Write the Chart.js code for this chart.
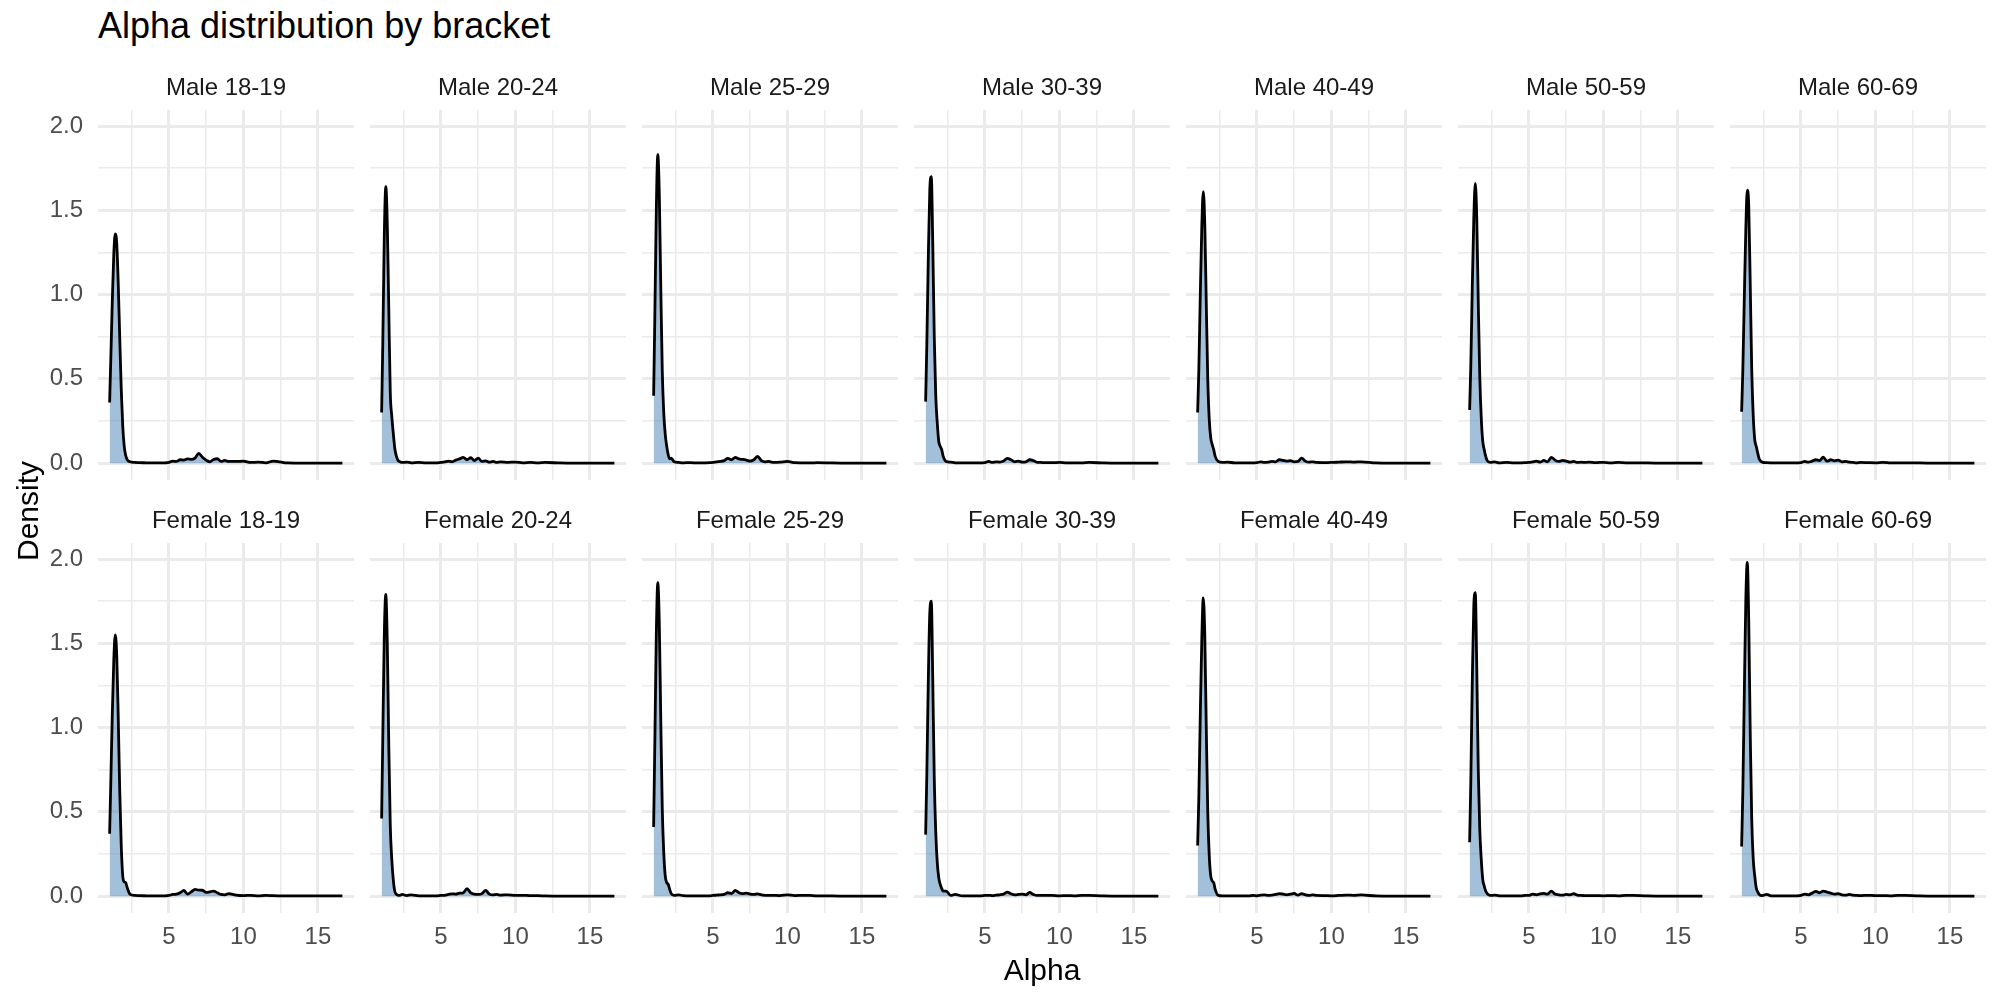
<!DOCTYPE html>
<html>
<head>
<meta charset="utf-8">
<title>Alpha distribution by bracket</title>
<script src="https://cdn.jsdelivr.net/npm/chart.js@4.4.1/dist/chart.umd.min.js"></script>
<style>
  body { margin: 0; background: #ffffff; }
  #wrap { position: relative; width: 2000px; height: 1000px; overflow: hidden;
          font-family: "Liberation Sans", Arial, sans-serif; }
  #wrap canvas { position: absolute; }
  .txt { position: absolute; white-space: nowrap; line-height: 1; color: #000; }
</style>
</head>
<body>
<div id="wrap">
  <div class="txt" style="left:98px; top:8px; font-size:36px;">Alpha distribution by bracket</div>
  <div class="txt" style="left:1042px; top:955px; font-size:30px; transform:translateX(-50%);">Alpha</div>
  <div class="txt" style="left:28px; top:511px; font-size:30px; transform:translate(-50%,-50%) rotate(-90deg);">Density</div>
</div>
<script>
const alphaGrid = [1.02, 1.1, 1.2, 1.3, 1.4, 1.5, 1.6, 1.7, 1.8, 1.9, 2.0, 2.1, 2.2, 2.4, 2.7, 3.0, 3.5, 4.0,
  4.5, 4.75, 5.0, 5.25, 5.5, 5.75, 6.0, 6.25, 6.5, 6.75, 7.0, 7.25, 7.5, 7.75, 8.0, 8.25, 8.5, 8.75, 9.0,
  9.5, 10.0, 10.5, 11.0, 11.5, 12.0, 13.0, 14.0, 15.0, 16.64];

const panelLabels = ['Male 18-19', 'Male 20-24', 'Male 25-29', 'Male 30-39', 'Male 40-49', 'Male 50-59', 'Male 60-69',
  'Female 18-19', 'Female 20-24', 'Female 25-29', 'Female 30-39', 'Female 40-49', 'Female 50-59', 'Female 60-69'];

// density per bracket (same order as alphaGrid)
const male18_19 = [0.36, 0.62, 0.96, 1.24, 1.36, 1.30, 1.06, 0.74, 0.44, 0.22, 0.10, 0.045, 0.02, 0.008, 0.004, 0.003, 0.002, 0.001,
  0.001, 0.002, 0.004, 0.012, 0.01, 0.02, 0.018, 0.025, 0.022, 0.03, 0.058, 0.035, 0.018, 0.008, 0.022, 0.026, 0.01, 0.016, 0.01,
  0.01, 0.012, 0.004, 0.006, 0.002, 0.012, 0.001, 0, 0, 0];
const male20_24 = [0.30, 0.72, 1.35, 1.64, 1.42, 0.92, 0.42, 0.28, 0.18, 0.09, 0.045, 0.02, 0.01, 0.004, 0.006, 0.002, 0.004, 0.001,
  0.001, 0.002, 0.004, 0.008, 0.012, 0.008, 0.018, 0.025, 0.034, 0.02, 0.032, 0.015, 0.03, 0.01, 0.014, 0.006, 0.01, 0.004, 0.008,
  0.005, 0.006, 0.002, 0.004, 0.001, 0.004, 0.001, 0, 0, 0];
const male25_29 = [0.40, 0.86, 1.50, 1.83, 1.60, 1.05, 0.55, 0.30, 0.17, 0.10, 0.05, 0.025, 0.03, 0.008, 0.004, 0.002, 0.003, 0.001,
  0.002, 0.003, 0.005, 0.008, 0.01, 0.015, 0.028, 0.02, 0.034, 0.025, 0.022, 0.018, 0.012, 0.02, 0.04, 0.015, 0.008, 0.01, 0.005,
  0.006, 0.01, 0.003, 0.002, 0.001, 0.003, 0.001, 0, 0, 0];
const male30_39 = [0.365, 0.70, 1.22, 1.62, 1.70, 1.30, 0.75, 0.40, 0.24, 0.13, 0.10, 0.08, 0.04, 0.01, 0.006, 0.002, 0.001, 0.001,
  0.001, 0.002, 0.003, 0.01, 0.004, 0.008, 0.006, 0.012, 0.028, 0.02, 0.008, 0.012, 0.006, 0.008, 0.02, 0.015, 0.005, 0.004, 0.003,
  0.003, 0.004, 0.002, 0.002, 0.001, 0.004, 0.001, 0, 0, 0];
const male40_49 = [0.30, 0.55, 1.00, 1.40, 1.61, 1.42, 0.95, 0.50, 0.26, 0.15, 0.11, 0.08, 0.04, 0.01, 0.004, 0.006, 0.002, 0.001,
  0.001, 0.002, 0.003, 0.008, 0.004, 0.006, 0.01, 0.008, 0.02, 0.016, 0.012, 0.015, 0.008, 0.01, 0.03, 0.012, 0.006, 0.008, 0.004,
  0.003, 0.004, 0.006, 0.008, 0.006, 0.008, 0.001, 0, 0, 0];
const male50_59 = [0.315, 0.58, 1.05, 1.45, 1.66, 1.45, 0.95, 0.52, 0.27, 0.13, 0.08, 0.04, 0.015, 0.005, 0.008, 0.002, 0.004, 0.002,
  0.002, 0.003, 0.004, 0.008, 0.012, 0.006, 0.016, 0.008, 0.034, 0.018, 0.01, 0.016, 0.012, 0.006, 0.01, 0.004, 0.006, 0.004, 0.006,
  0.003, 0.005, 0.002, 0.004, 0.002, 0.001, 0.001, 0, 0, 0];
const male60_69 = [0.305, 0.55, 0.98, 1.38, 1.62, 1.52, 1.05, 0.55, 0.28, 0.14, 0.10, 0.06, 0.025, 0.006, 0.003, 0.002, 0.001, 0.001,
  0.001, 0.002, 0.003, 0.01, 0.006, 0.012, 0.02, 0.015, 0.035, 0.012, 0.02, 0.014, 0.018, 0.008, 0.01, 0.006, 0.004, 0.002, 0.004,
  0.003, 0.002, 0.005, 0.002, 0.001, 0.001, 0.001, 0, 0, 0];
const female18_19 = [0.37, 0.68, 1.08, 1.40, 1.55, 1.42, 1.05, 0.62, 0.30, 0.12, 0.085, 0.08, 0.05, 0.01, 0.004, 0.003, 0.002, 0.001,
  0.001, 0.002, 0.004, 0.01, 0.012, 0.02, 0.034, 0.012, 0.025, 0.04, 0.036, 0.035, 0.022, 0.026, 0.03, 0.02, 0.01, 0.008, 0.015,
  0.006, 0.003, 0.005, 0.002, 0.004, 0.003, 0.001, 0.001, 0.001, 0.002];
const female20_24 = [0.46, 0.95, 1.55, 1.79, 1.50, 0.90, 0.42, 0.22, 0.10, 0.03, 0.012, 0.006, 0.004, 0.01, 0.003, 0.008, 0.002, 0.001,
  0.001, 0.002, 0.004, 0.005, 0.01, 0.014, 0.012, 0.018, 0.02, 0.044, 0.02, 0.012, 0.01, 0.015, 0.034, 0.012, 0.008, 0.01, 0.006,
  0.008, 0.004, 0.005, 0.003, 0.003, 0.001, 0, 0, 0, 0];
const female25_29 = [0.41, 0.90, 1.55, 1.86, 1.62, 1.05, 0.52, 0.26, 0.12, 0.08, 0.07, 0.04, 0.015, 0.005, 0.008, 0.003, 0.001, 0.001,
  0.001, 0.002, 0.004, 0.006, 0.008, 0.01, 0.02, 0.015, 0.034, 0.02, 0.015, 0.018, 0.012, 0.01, 0.014, 0.008, 0.005, 0.004, 0.005,
  0.003, 0.008, 0.003, 0.005, 0.004, 0.001, 0.001, 0, 0, 0];
const female30_39 = [0.365, 0.72, 1.28, 1.68, 1.75, 1.28, 0.70, 0.38, 0.20, 0.11, 0.07, 0.045, 0.03, 0.03, 0.004, 0.01, 0.001, 0.001,
  0.001, 0.002, 0.004, 0.005, 0.003, 0.006, 0.008, 0.012, 0.024, 0.014, 0.008, 0.01, 0.012, 0.008, 0.022, 0.01, 0.004, 0.005, 0.005,
  0.005, 0.002, 0.003, 0.002, 0.005, 0.004, 0.001, 0, 0, 0];
const female40_49 = [0.30, 0.58, 1.08, 1.52, 1.77, 1.55, 1.00, 0.50, 0.24, 0.12, 0.09, 0.08, 0.04, 0.005, 0.002, 0.002, 0.001, 0.001,
  0.002, 0.004, 0.002, 0.006, 0.008, 0.004, 0.006, 0.01, 0.015, 0.012, 0.008, 0.012, 0.016, 0.006, 0.015, 0.008, 0.005, 0.008, 0.004,
  0.003, 0.002, 0.004, 0.006, 0.005, 0.007, 0.001, 0, 0, 0];
const female50_59 = [0.32, 0.68, 1.28, 1.72, 1.80, 1.35, 0.75, 0.40, 0.22, 0.10, 0.06, 0.03, 0.015, 0.004, 0.006, 0.002, 0.001, 0.001,
  0.002, 0.005, 0.004, 0.012, 0.008, 0.014, 0.016, 0.012, 0.03, 0.012, 0.008, 0.006, 0.01, 0.008, 0.015, 0.006, 0.004, 0.003, 0.003,
  0.003, 0.002, 0.003, 0.002, 0.005, 0.004, 0.001, 0, 0, 0];
const female60_69 = [0.295, 0.62, 1.20, 1.75, 1.98, 1.62, 0.95, 0.45, 0.22, 0.12, 0.05, 0.025, 0.01, 0.003, 0.01, 0.002, 0.001, 0.001,
  0.001, 0.002, 0.004, 0.012, 0.008, 0.018, 0.028, 0.02, 0.03, 0.024, 0.018, 0.012, 0.015, 0.008, 0.006, 0.01, 0.006, 0.004, 0.003,
  0.005, 0.003, 0.003, 0.002, 0.005, 0.004, 0.001, 0, 0, 0];

const panelValues = [male18_19, male20_24, male25_29, male30_39, male40_49, male50_59, male60_69,
  female18_19, female20_24, female25_29, female30_39, female40_49, female50_59, female60_69];

// axis ticks
const xMajorTicks = [5, 10, 15];
const xTickLabels = ['5', '10', '15'];
const xMinorTicks = [2.5, 7.5, 12.5];
const yMajorTicks = [0, 0.5, 1, 1.5, 2];
const yTickLabels = ['0.0', '0.5', '1.0', '1.5', '2.0'];
const yMinorTicks = [0.25, 0.75, 1.25, 1.75];

const FONT = '"Liberation Sans", Arial, sans-serif';
const PANEL_W = 256, PANEL_H = 370, COL_STEP = 272, ROW_STEP = 433;
const LEFT0 = 98, TOP0 = 110, STRIP = 46, X_AXIS_H = 47;

const wrap = document.getElementById('wrap');

function tickList(major, minor) {
  return major.concat(minor).sort((a, b) => a - b).map(v => ({ value: v }));
}

panelLabels.forEach((label, i) => {
  const col = i % 7;
  const row = Math.floor(i / 7);
  const panelLeft = LEFT0 + col * COL_STEP;
  const panelTop = TOP0 + row * ROW_STEP;
  const canvasLeft = col === 0 ? 0 : panelLeft;
  const axisW = panelLeft - canvasLeft;
  const axisH = row === 1 ? X_AXIS_H : 0;
  const w = panelLeft + PANEL_W - canvasLeft;
  const h = STRIP + PANEL_H + axisH;

  const canvas = document.createElement('canvas');
  canvas.width = w;
  canvas.height = h;
  canvas.style.left = canvasLeft + 'px';
  canvas.style.top = (panelTop - STRIP) + 'px';
  canvas.style.width = w + 'px';
  canvas.style.height = h + 'px';
  wrap.insertBefore(canvas, wrap.firstChild);

  new Chart(canvas.getContext('2d'), {
    type: 'line',
    data: {
      datasets: [{
        data: alphaGrid.map((x, k) => ({ x: x, y: panelValues[i][k] })),
        borderColor: '#000000',
        borderWidth: 2.8,
        backgroundColor: 'rgba(70, 130, 180, 0.5)',
        fill: 'origin',
        pointRadius: 0,
        cubicInterpolationMode: 'monotone'
      }]
    },
    options: {
      responsive: false,
      animation: false,
      layout: { padding: 0 },
      plugins: {
        legend: { display: false },
        tooltip: { enabled: false },
        title: {
          display: true,
          text: label,
          fullSize: false,
          color: '#1a1a1a',
          font: { family: FONT, size: 24, weight: 'normal', lineHeight: 1 },
          padding: { top: 12, bottom: 10 }
        }
      },
      scales: {
        x: {
          type: 'linear',
          min: 0.24,
          max: 17.42,
          afterBuildTicks: s => { s.ticks = tickList(xMajorTicks, xMinorTicks); },
          afterFit: s => { s.height = axisH; s.paddingLeft = 0; s.paddingRight = 0; },
          border: { display: false },
          grid: {
            color: '#ebebeb',
            drawTicks: false,
            lineWidth: c => xMajorTicks.includes(c.tick.value) ? 3 : 1.5
          },
          ticks: {
            display: row === 1,
            autoSkip: false,
            maxRotation: 0,
            padding: 10,
            color: '#4d4d4d',
            font: { family: FONT, size: 24 },
            callback: v => {
              const k = xMajorTicks.indexOf(v);
              return k >= 0 ? xTickLabels[k] : '';
            }
          }
        },
        y: {
          type: 'linear',
          min: -0.1,
          max: 2.095,
          afterBuildTicks: s => { s.ticks = tickList(yMajorTicks, yMinorTicks); },
          afterFit: s => { s.width = axisW; s.paddingTop = 0; s.paddingBottom = 0; },
          border: { display: false },
          grid: {
            color: '#ebebeb',
            drawTicks: false,
            lineWidth: c => yMajorTicks.includes(c.tick.value) ? 3 : 1.5
          },
          ticks: {
            display: col === 0,
            autoSkip: false,
            padding: 15,
            color: '#4d4d4d',
            font: { family: FONT, size: 24 },
            callback: v => {
              const k = yMajorTicks.indexOf(v);
              return k >= 0 ? yTickLabels[k] : '';
            }
          }
        }
      }
    }
  });
});
</script>
</body>
</html>
